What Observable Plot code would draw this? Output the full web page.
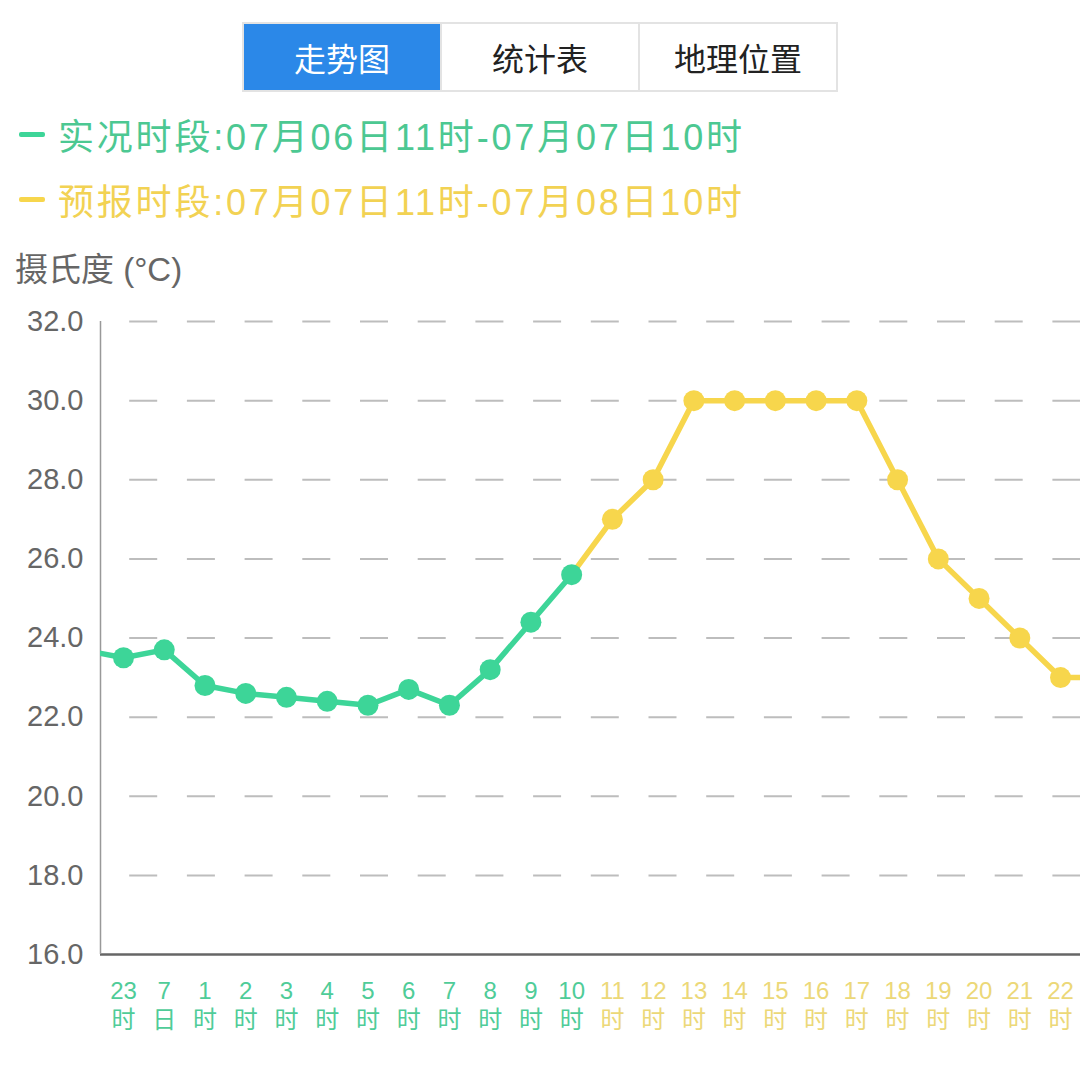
<!DOCTYPE html>
<html>
<head>
<meta charset="utf-8">
<script src="https://cdn.jsdelivr.net/npm/d3@7"></script>
<script src="https://cdn.jsdelivr.net/npm/@observablehq/plot@0.6"></script>
<style>
  html, body { margin: 0; padding: 0; background: #fff; }
  #wrap { position: relative; width: 1080px; height: 1065px; overflow: hidden; background: #fff;
    font-family: "Liberation Sans", "Noto Sans CJK SC", sans-serif; }
  .tabs { position: absolute; left: 242px; top: 22px; width: 596px; height: 70px; display: flex;
    border: 2px solid #e3e3e3; box-sizing: border-box; }
  .tab { flex: 1; display: flex; align-items: center; justify-content: center; font-size: 32px; color: #222;
    font-family: "Noto Sans CJK SC", sans-serif; }
  .tab + .tab { border-left: 2px solid #e3e3e3; }
  .tab.active { background: #2b88e8; color: #fff; }
  .leg { position: absolute; left: 19px; height: 44px; display: flex; align-items: center; font-size: 36px;
    letter-spacing: 2.8px; white-space: nowrap; }
  .leg .sw { width: 26px; height: 5px; margin-right: 13px; border-radius: 2px; }
  .unit { position: absolute; left: 15px; top: 243px; font-size: 33px; color: #666; white-space: nowrap; }
  #chart { position: absolute; left: 0; top: 300px; }
</style>
</head>
<body>
<div id="wrap">
  <div class="tabs">
    <div class="tab active">走势图</div>
    <div class="tab">统计表</div>
    <div class="tab">地理位置</div>
  </div>
  <div class="leg" id="leg1" style="top:112px"></div>
  <div class="leg" id="leg2" style="top:177px"></div>
  <div class="unit" id="unit"></div>
  <div id="chart"></div>
</div>
<script>
// ---- data ----
const legendObs = "实况时段:07月06日11时-07月07日10时";
const legendFcst = "预报时段:07月07日11时-07月08日10时";
const unitLabel = "摄氏度 (°C)";
const tabLabels = ["走势图", "统计表", "地理位置"];

// tick labels (two lines) for visible hours
const tickTop = ["23","7","1","2","3","4","5","6","7","8","9","10","11","12","13","14","15","16","17","18","19","20","21","22"];
const tickBottom = ["时","日","时","时","时","时","时","时","时","时","时","时","时","时","时","时","时","时","时","时","时","时","时","时"];

// observed: from 22时 (just off the left edge) through 10时
const obsValues = [23.7, 23.5, 23.7, 22.8, 22.6, 22.5, 22.4, 22.3, 22.7, 22.3, 23.2, 24.4, 25.6];
// forecast: 11时 through 23时 (last one just off the right edge)
const fcstValues = [27.0, 28.0, 30.0, 30.0, 30.0, 30.0, 30.0, 28.0, 26.0, 25.0, 24.0, 23.0, 23.0];

const yTicks = [16, 18, 20, 22, 24, 26, 28, 30, 32];

// ---- styles ----
const green = "#3dd598";
const yellow = "#f7d64c";
const greenText = "#4fcc98";
const yellowText = "#ecd878";

document.getElementById("leg1").innerHTML = `<span class="sw" style="background:${green}"></span><span style="color:#4cc892">${legendObs}</span>`;
document.getElementById("leg2").innerHTML = `<span class="sw" style="background:${yellow}"></span><span style="color:#f2d253">${legendFcst}</span>`;
document.getElementById("unit").textContent = unitLabel;

// ---- build tables ----
const obs = obsValues.map((v, i) => ({i: i - 1, v}));
const fcst = fcstValues.map((v, i) => ({i: i + obsValues.length - 1, v}));
const fcstLine = [obs[obs.length - 1], ...fcst];
const nObsTicks = obsValues.length - 1; // visible observed ticks
const greenTicks = d3.range(0, nObsTicks);
const yellowTicks = d3.range(nObsTicks, tickTop.length);
const xDomain = [-0.565, tickTop.length - 0.51];
const fmtX = i => tickTop[i] + "\n" + tickBottom[i];

const plot = Plot.plot({
  width: 1080,
  height: 765,
  marginLeft: 100,
  marginRight: 0,
  marginTop: 21,
  marginBottom: 111,
  style: {fontFamily: "'Liberation Sans','Noto Sans CJK SC',sans-serif", background: "#fff", overflow: "visible"},
  x: {type: "linear", domain: xDomain},
  y: {domain: [16, 32]},
  marks: [
    Plot.gridY({ticks: yTicks.slice(1), stroke: "#bdbdbd", strokeOpacity: 1, strokeWidth: 2,
      strokeDasharray: "28 29.7", strokeDashoffset: 28.5}),
    Plot.ruleY([yTicks[0]], {stroke: "#666", strokeWidth: 2.5}),
    Plot.ruleX([xDomain[0]], {stroke: "#999", strokeWidth: 1.5}),
    Plot.axisY({ticks: yTicks, tickFormat: d3.format(".1f"), tickSize: 0, tickPadding: 17,
      fontSize: 29, color: "#666", label: null}),
    Plot.axisX({ticks: greenTicks, tickFormat: fmtX, tickSize: 0, tickPadding: 24, fontSize: 24,
      lineHeight: 1.2, color: greenText, label: null}),
    Plot.axisX({ticks: yellowTicks, tickFormat: fmtX, tickSize: 0, tickPadding: 24, fontSize: 24,
      lineHeight: 1.2, color: yellowText, label: null}),
    Plot.line(fcstLine, {x: "i", y: "v", stroke: yellow, strokeWidth: 5.5, clip: true}),
    Plot.line(obs, {x: "i", y: "v", stroke: green, strokeWidth: 5.5, clip: true}),
    Plot.dot(fcst, {x: "i", y: "v", r: 10.5, fill: yellow, clip: true}),
    Plot.dot(obs, {x: "i", y: "v", r: 10.5, fill: green, clip: true})
  ]
});
document.getElementById("chart").appendChild(plot);
</script>
</body>
</html>
